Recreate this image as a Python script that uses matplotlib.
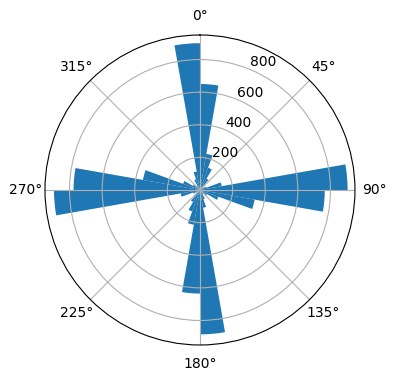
import matplotlib
matplotlib.use("Agg")
import matplotlib.pyplot as plt
import numpy as np

# bin start angles (degrees, clockwise from north), 10 degree bins
bin_starts = list(range(0, 360, 10))
counts = [650, 225, 145, 80, 30, 20, 40, 135, 905,
          765, 340, 120, 50, 25, 30, 60, 110, 885,
          635, 216, 140, 85, 30, 20, 45, 120, 895,
          775, 355, 110, 50, 25, 30, 70, 115, 900]
bin_width = 10

def main():
  fig = plt.figure(figsize=(3.96, 3.80), dpi=100)
  ax = fig.add_axes([0.1136, 0.0921, 0.7828, 0.8158], projection='polar')
  ax.set_theta_zero_location('N')
  ax.set_theta_direction(-1)
  theta = np.deg2rad(bin_starts)
  ax.bar(theta, counts, width=np.deg2rad(bin_width), align='edge', color='#1f77b4')
  ax.set_rticks([200, 400, 600, 800])
  fig.savefig('out.png', dpi=100)

if __name__ == "__main__":
  main()
